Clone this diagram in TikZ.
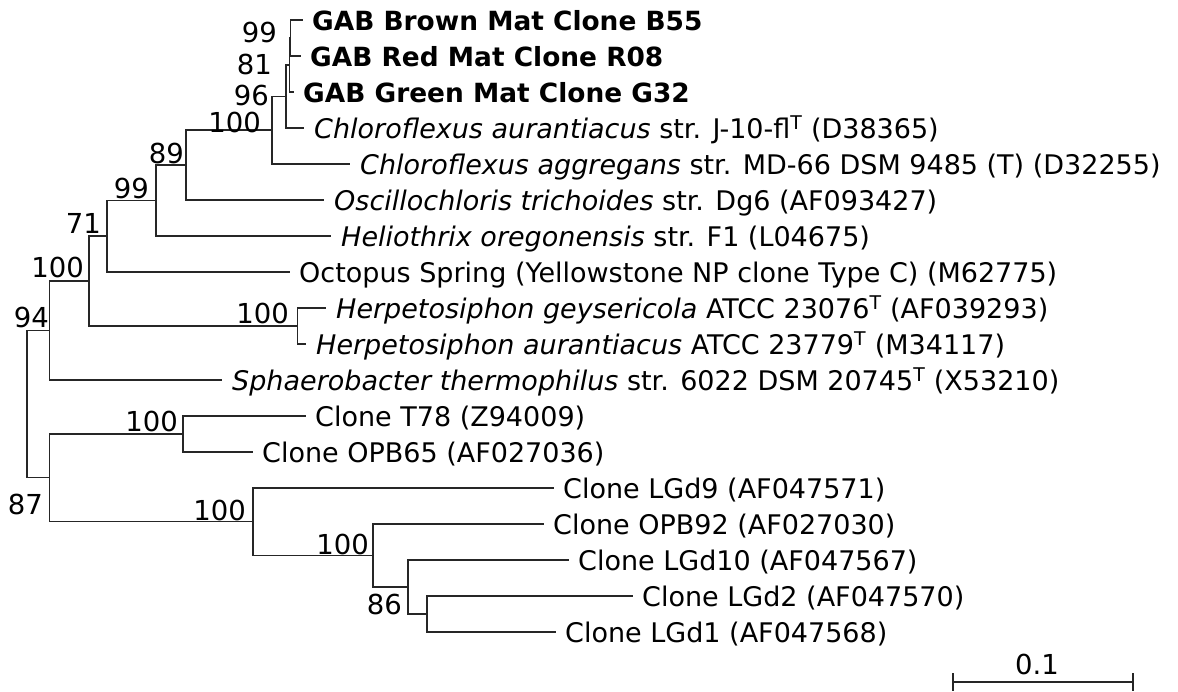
\documentclass[tikz,border=0pt]{standalone}
\usepackage{fontspec}
\setmainfont{DejaVu Sans}
\usetikzlibrary{calc}
\begin{document}
\begin{tikzpicture}[x=1pt,y=-1pt,
  br/.style={line width=1.1pt, draw=black!85, line cap=rect},
  leaf/.style={anchor=base west, inner sep=0pt, font=\fontsize{27}{32}\selectfont},
  gab/.style={leaf, font=\fontsize{26.4}{32}\selectfont\bfseries},
  boot/.style={anchor=east, inner sep=0pt, font=\fontsize{27.5}{32}\selectfont},
]
\useasboundingbox (0,0) rectangle (1178,691);
% leaf tips
\coordinate (B55) at (302,20);
\coordinate (R08) at (300,56);
\coordinate (G32) at (293,92);
\coordinate (Caur) at (303,128);
\coordinate (Cagg) at (349,164);
\coordinate (Osc) at (323,200);
\coordinate (Hel) at (330,236);
\coordinate (Oct) at (289,272);
\coordinate (Hgey) at (325,308);
\coordinate (Haur) at (305,344);
\coordinate (Sph) at (221,380);
\coordinate (T78) at (305,416);
\coordinate (OPB65) at (252,452);
\coordinate (LGd9) at (553,488);
\coordinate (OPB92) at (543,524);
\coordinate (LGd10) at (568,560);
\coordinate (LGd2) at (632,596);
\coordinate (LGd1) at (555,632);
% internal nodes
\coordinate (nA) at (290.5,38);
\coordinate (nB) at (289.5,65);
\coordinate (nC) at (286,96.5);
\coordinate (nD) at (272,130);
\coordinate (nE) at (186,165);
\coordinate (nF) at (156,200.5);
\coordinate (nG) at (107,236);
\coordinate (nH) at (297.5,326);
\coordinate (nI) at (89,281);
\coordinate (nJ) at (49.5,330.5);
\coordinate (nK) at (183,434);
\coordinate (nL2) at (427,614);
\coordinate (nL10) at (408,587);
\coordinate (nO) at (373,555.5);
\coordinate (nL) at (253,521.75);
\coordinate (nM) at (49.5,477.9);
\coordinate (root) at (27,404);
% branches
\draw[br] (nA) |- (B55); \draw[br] (nA) |- (R08);
\draw[br] (nB) |- (nA); \draw[br] (nB) |- (G32);
\draw[br] (nC) |- (nB); \draw[br] (nC) |- (Caur);
\draw[br] (nD) |- (nC); \draw[br] (nD) |- (Cagg);
\draw[br] (nE) |- (nD); \draw[br] (nE) |- (Osc);
\draw[br] (nF) |- (nE); \draw[br] (nF) |- (Hel);
\draw[br] (nG) |- (nF); \draw[br] (nG) |- (Oct);
\draw[br] (nH) |- (Hgey); \draw[br] (nH) |- (Haur);
\draw[br] (nI) |- (nG); \draw[br] (nI) |- (nH);
\draw[br] (nJ) |- (nI); \draw[br] (nJ) |- (Sph);
\draw[br] (nK) |- (T78); \draw[br] (nK) |- (OPB65);
\draw[br] (nL2) |- (LGd2); \draw[br] (nL2) |- (LGd1);
\draw[br] (nL10) |- (LGd10); \draw[br] (nL10) |- (nL2);
\draw[br] (nO) |- (OPB92); \draw[br] (nO) |- (nL10);
\draw[br] (nL) |- (LGd9); \draw[br] (nL) |- (nO);
\draw[br] (nM) |- (nK); \draw[br] (nM) |- (nL);
\draw[br] (root) |- (nJ); \draw[br] (root) |- (nM);
% leaf labels
\node[gab] (tB55) at ($(B55)+(10,10.5)$) {GAB Brown Mat Clone B55};
\node[gab] (tR08) at ($(R08)+(10,10.5)$) {GAB Red Mat Clone R08};
\node[gab] (tG32) at ($(G32)+(10,10.5)$) {GAB Green Mat Clone G32};
\node[leaf] (tCaur) at ($(Caur)+(11,10.5)$) {\textit{Chloroflexus aurantiacus} str. J-10-fl\textsuperscript{T} (D38365)};
\node[leaf] (tCagg) at ($(Cagg)+(11,10.5)$) {\textit{Chloroflexus aggregans} str. MD-66 DSM 9485 (T) (D32255)};
\node[leaf] (tOsc) at ($(Osc)+(11,10.5)$) {\textit{Oscillochloris trichoides} str. Dg6 (AF093427)};
\node[leaf] (tHel) at ($(Hel)+(11,10.5)$) {\textit{Heliothrix oregonensis} str. F1 (L04675)};
\node[leaf] (tOct) at ($(Oct)+(10,10.5)$) {Octopus Spring (Yellowstone NP clone Type C) (M62775)};
\node[leaf] (tHgey) at ($(Hgey)+(11,10.5)$) {\textit{Herpetosiphon geysericola} ATCC 23076\textsuperscript{T} (AF039293)};
\node[leaf] (tHaur) at ($(Haur)+(11,10.5)$) {\textit{Herpetosiphon aurantiacus} ATCC 23779\textsuperscript{T} (M34117)};
\node[leaf] (tSph) at ($(Sph)+(11,10.5)$) {\textit{Sphaerobacter thermophilus} str. 6022 DSM 20745\textsuperscript{T} (X53210)};
\node[leaf] (tT78) at ($(T78)+(10,10.5)$) {Clone T78 (Z94009)};
\node[leaf] (tOPB65) at ($(OPB65)+(10,10.5)$) {Clone OPB65 (AF027036)};
\node[leaf] (tLGd9) at ($(LGd9)+(10,10.5)$) {Clone LGd9 (AF047571)};
\node[leaf] (tOPB92) at ($(OPB92)+(10,10.5)$) {Clone OPB92 (AF027030)};
\node[leaf] (tLGd10) at ($(LGd10)+(10,10.5)$) {Clone LGd10 (AF047567)};
\node[leaf] (tLGd2) at ($(LGd2)+(10,10.5)$) {Clone LGd2 (AF047570)};
\node[leaf] (tLGd1) at ($(LGd1)+(10,10.5)$) {Clone LGd1 (AF047568)};
% bootstrap values
\node[boot] (bA) at (277,32) {99};
\node[boot] (bB) at (272,64) {81};
\node[boot] (bC) at (269,95) {96};
\node[boot] (bD) at (261,122) {100};
\node[boot] (bE) at (184,153) {89};
\node[boot] (bF) at (149,188) {99};
\node[boot] (bG) at (101,223) {71};
\node[boot] (bI) at (84,267) {100};
\node[boot] (bJ) at (49,317) {94};
\node[boot] (bH) at (289,313) {100};
\node[boot] (bK) at (178,421) {100};
\node[boot] (bM) at (43,504) {87};
\node[boot] (bL) at (246,510) {100};
\node[boot] (bO) at (369,544) {100};
\node[boot] (bL10) at (402,604) {86};
% scale bar
\coordinate (sbL) at (953,682);
\coordinate (sbR) at (1133,682);
\draw[br, line cap=butt] (sbL) -- (sbR);
\draw[br, line cap=butt] ($(sbL)+(0,-9)$) -- ($(sbL)+(0,9)$);
\draw[br, line cap=butt] ($(sbR)+(0,-9)$) -- ($(sbR)+(0,9)$);
\node[boot, anchor=center] (sbT) at (1037,664) {0.1};
\end{tikzpicture}
\end{document}
